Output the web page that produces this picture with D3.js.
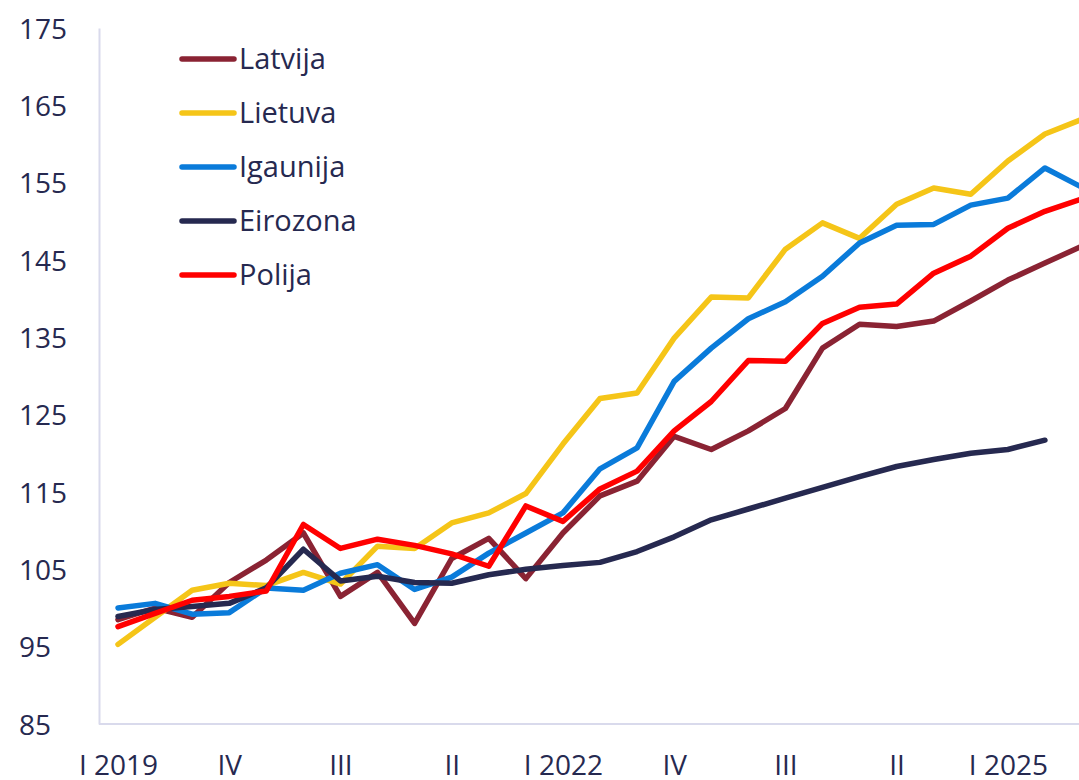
<!DOCTYPE html>
<html>
<head>
<meta charset="utf-8">
<script src="https://cdn.jsdelivr.net/npm/d3@7"></script>
<style>
  body { margin: 0; background: #fff; }
  svg { display: block; font-family: "Open Sans", sans-serif; }
</style>
</head>
<body>
<div id="chart"></div>
<script>
// quarters 2019 Q1 .. 2025 Q3
var quarters = ["2019Q1","2019Q2","2019Q3","2019Q4","2020Q1","2020Q2","2020Q3","2020Q4",
  "2021Q1","2021Q2","2021Q3","2021Q4","2022Q1","2022Q2","2022Q3","2022Q4",
  "2023Q1","2023Q2","2023Q3","2023Q4","2024Q1","2024Q2","2024Q3","2024Q4",
  "2025Q1","2025Q2","2025Q3"];

var latvija  = [98.5,100.0,98.8,103.3,106.2,109.7,101.5,104.6,98.0,106.4,109.0,103.8,109.7,114.5,116.4,122.2,120.5,122.9,125.8,133.6,136.7,136.4,137.1,139.7,142.4,144.6,146.8];
var lietuva  = [95.3,98.8,102.3,103.2,102.9,104.6,103.1,108.0,107.7,111.0,112.3,114.8,121.2,127.1,127.8,134.9,140.2,140.1,146.4,149.8,147.8,152.2,154.3,153.5,157.8,161.3,163.2];
var igaunija = [100.0,100.6,99.2,99.4,102.6,102.3,104.5,105.6,102.4,104.0,107.1,109.7,112.3,118.0,120.7,129.3,133.6,137.4,139.6,142.9,147.2,149.5,149.6,152.1,153.0,156.9,154.4];
var eirozona = [98.9,99.8,100.2,100.6,102.6,107.6,103.5,104.1,103.3,103.2,104.3,105.0,105.5,105.9,107.3,109.2,111.4,112.8,114.2,115.6,117.0,118.3,119.2,120.0,120.5,121.7];
var polija   = [97.6,99.3,101.0,101.5,102.2,110.8,107.7,108.9,108.1,107.0,105.4,113.2,111.2,115.4,117.7,122.9,126.7,132.0,131.9,136.8,138.9,139.3,143.3,145.5,149.1,151.3,152.9];

var seriesNames = ["Latvija","Lietuva","Igaunija","Eirozona","Polija"];
var seriesColors = ["#8A2333","#F5C518","#0A7BDA","#262950","#FF0000"];
var seriesData = [latvija, lietuva, igaunija, eirozona, polija];

var yTicks = [85,95,105,115,125,135,145,155,165,175];
var xTickQuarters = ["2019Q1","2019Q4","2020Q3","2021Q2","2022Q1","2022Q4","2023Q3","2024Q2","2025Q1"];
var roman = {"1":"I","2":"II","3":"III","4":"IV"};

var width = 1079, height = 780;
var textColor = "#262950", axisColor = "#D9DAEC";

var svg = d3.select("#chart").append("svg")
  .attr("width", width)
  .attr("height", height);

var x = d3.scalePoint()
  .domain(quarters)
  .range([118, 1082]);

var y = d3.scaleLinear()
  .domain([85, 175])
  .range([724, 28]);

// y axis
var yAxis = d3.axisLeft(y).tickValues(yTicks).tickSize(0).tickPadding(0);
var gy = svg.append("g")
  .attr("transform", "translate(99,0)")
  .call(yAxis);
gy.select(".domain").attr("stroke", axisColor).attr("stroke-width", 2);
gy.selectAll("text")
  .attr("x", -80)
  .attr("dy", "0.36em")
  .attr("text-anchor", "start")
  .attr("fill", textColor)
  .style("font-size", "28px")
  .style("font-family", "'Open Sans', sans-serif");

// x axis
var xAxis = d3.axisBottom(x)
  .tickValues(xTickQuarters)
  .tickSize(0)
  .tickPadding(0)
  .tickFormat(function(d) {
    var yr = d.slice(0, 4), q = d.slice(5);
    return q === "1" ? "I " + yr : roman[q];
  });
var gx = svg.append("g")
  .attr("transform", "translate(0,724)")
  .call(xAxis);
gx.select(".domain").attr("d", "M99,0H1079").attr("stroke", axisColor).attr("stroke-width", 2);
gx.selectAll("text")
  .attr("y", 51)
  .attr("dy", 0)
  .attr("fill", textColor)
  .style("font-size", "28px")
  .style("font-family", "'Open Sans', sans-serif");

// lines
var line = d3.line()
  .x(function(d, i) { return x(quarters[i]); })
  .y(function(d) { return y(d); });

svg.selectAll(".series")
  .data(seriesData)
  .enter()
  .append("path")
  .attr("class", "series")
  .attr("d", line)
  .attr("fill", "none")
  .attr("stroke", function(d, i) { return seriesColors[i]; })
  .attr("stroke-width", 5.5)
  .attr("stroke-linejoin", "round")
  .attr("stroke-linecap", "round");

// legend
var legend = svg.append("g").attr("transform", "translate(182,59)");
var items = legend.selectAll("g")
  .data(seriesNames)
  .enter()
  .append("g")
  .attr("transform", function(d, i) { return "translate(0," + (i * 54) + ")"; });
items.append("line")
  .attr("x1", 0).attr("x2", 52)
  .attr("stroke", function(d, i) { return seriesColors[i]; })
  .attr("stroke-width", 5.5)
  .attr("stroke-linecap", "round");
items.append("text")
  .attr("x", 57)
  .attr("dy", "0.36em")
  .attr("fill", textColor)
  .style("font-size", "29px")
  .text(function(d) { return d; });
</script>
</body>
</html>
